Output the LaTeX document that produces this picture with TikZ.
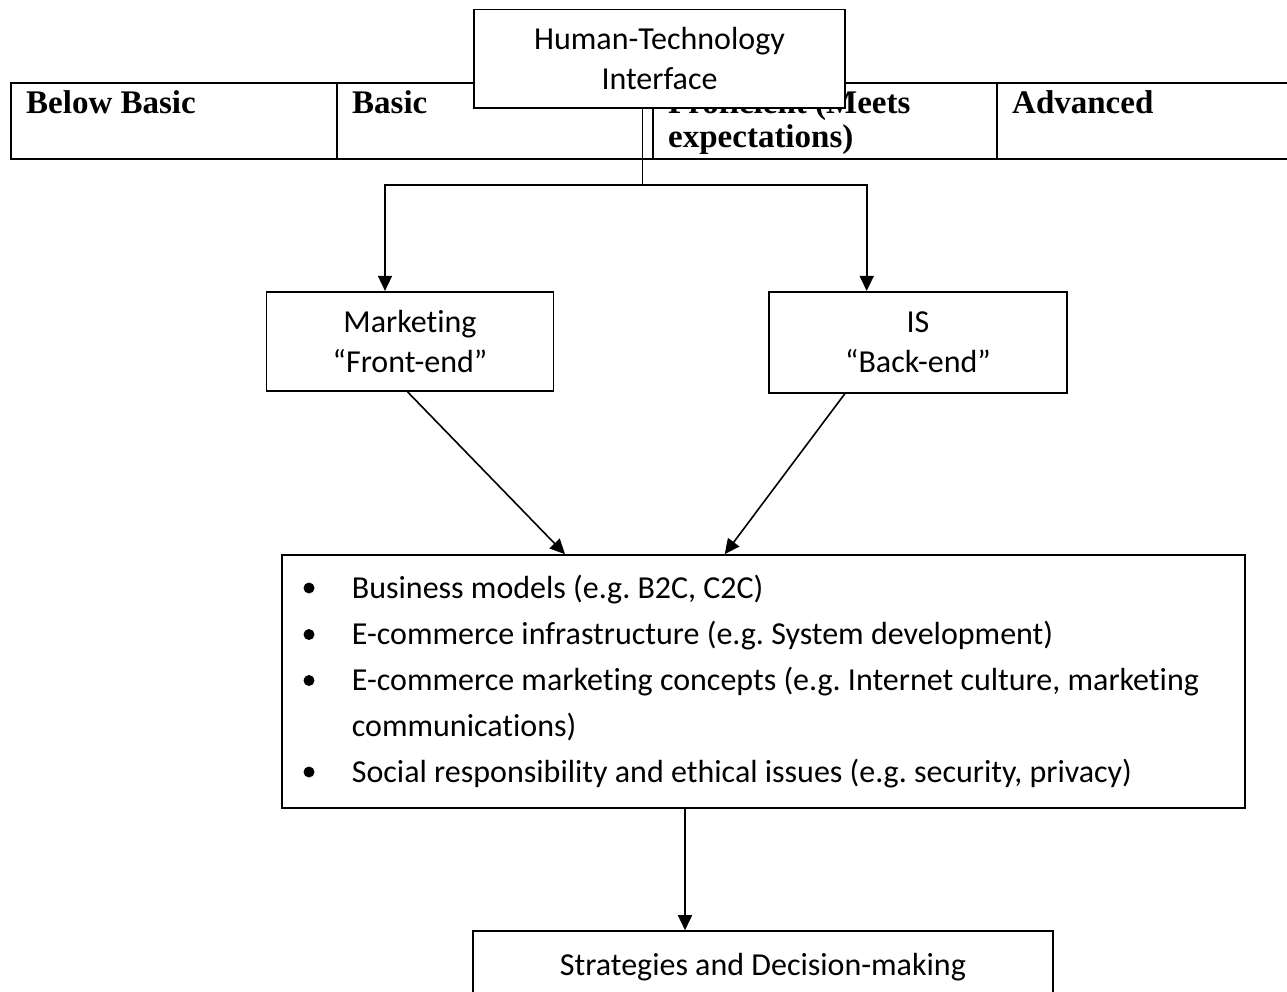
\documentclass[tikz,border=0pt]{standalone}
\usepackage{fontspec}
\newfontfamily\carl[Ligatures=NoCommon]{Carlito}
\newfontfamily\cellfont{Liberation Serif}
\usetikzlibrary{arrows.meta}
\begin{document}
\frenchspacing
\begin{tikzpicture}[x=1pt,y=-1pt,
  box/.style={draw, line width=1.6pt, fill=white, inner sep=0pt,
    font=\carl\fontsize{32}{40}\selectfont, align=center},
  arr/.style={line width=1.6pt, -{Triangle[length=15pt,width=14pt]}},
  tline/.style={line width=2pt},
  cell/.style={anchor=base west, inner sep=0pt, font=\cellfont\bfseries\fontsize{33}{34}\selectfont},
  items/.style={anchor=base west, inner sep=0pt, font=\carl\fontsize{32}{46}\selectfont}]
\useasboundingbox (0,0) rectangle (1287,991);
\clip (0,0) rectangle (1287,991);
% table
\draw[tline] (11,83) rectangle (1300,158.5);
\draw[tline] (337,83) -- (337,158.5) (653,83) -- (653,158.5) (997,83) -- (997,158.5);
\node[cell] (c1) at (26,113) {Below Basic};
\node[cell] (c2) at (352,113) {Basic};
\node[cell] (c3) at (668,113) {\parbox[t]{320pt}{Proficient (Meets\\expectations)}};
\node[cell] (c4) at (1012,113) {Advanced};
% boxes
\node[box, minimum width=371pt, minimum height=98.5pt] (ht) at (659.5,58.75) {Human-Technology\\Interface};
\node[box, minimum width=287pt, minimum height=99.3pt] (mk) at (410,341.35) {Marketing\\“Front-end”};
\node[box, minimum width=298pt, minimum height=101pt] (is) at (918,342.2) {IS\\“Back-end”};
\node[box, minimum width=963pt, minimum height=253pt] (main) at (763.5,681.5) {};
\node[box, minimum width=580.3pt, minimum height=73.1pt] (st) at (762.9,967.55) {Strategies and Decision-making};
% list
\node[items] (list) at (351.7,598) {\parbox[t]{885pt}{\raggedright
Business models (e.g. B2C, C2C)\\
E-commerce infrastructure (e.g. System development)\\
E-commerce marketing concepts (e.g. Internet culture, marketing\\
communications)\\
Social responsibility and ethical issues (e.g. security, privacy)}};
\foreach \yy in {588,634.5,680.5,772} \fill (309,\yy) circle[radius=5.5pt];
% connectors
\coordinate (j) at (642.7,185);
\coordinate (lb) at (385,185);
\coordinate (rb) at (866.7,185);
\draw[line width=1.2pt] (j |- ht.south) -- (j);
\draw[arr] (j) -- (lb) -- (lb |- mk.north);
\draw[arr] (j) -- (rb) -- (rb |- is.north);
\coordinate (a1) at (407.5,0);
\coordinate (a2) at (565,0);
\coordinate (a3) at (845,0);
\coordinate (a4) at (724.7,0);
\coordinate (a5) at (685,0);
\draw[arr] (a1 |- mk.south) -- (a2 |- main.north);
\draw[arr] (a3 |- is.south) -- (a4 |- main.north);
\draw[arr] (a5 |- main.south) -- (a5 |- st.north);
\end{tikzpicture}
\end{document}
